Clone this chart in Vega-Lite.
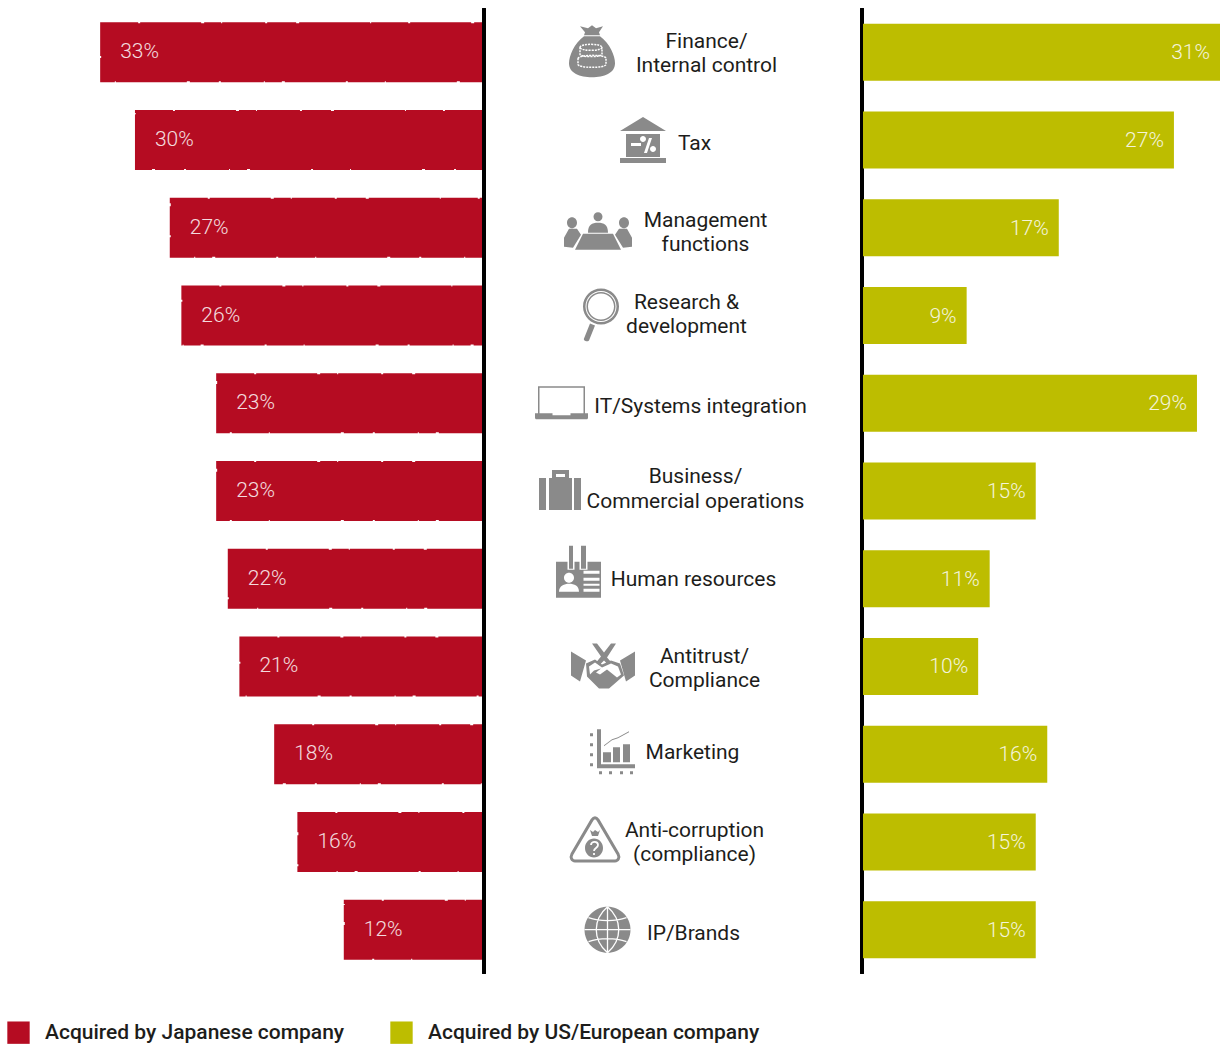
{"$schema":"https://vega.github.io/schema/vega-lite/v6.json","padding":{"top":6.5,"left":0,"right":0,"bottom":0},"spacing":0,"bounds":"flush","config":{"view":{"stroke":null},"font":"Roboto"},
"datasets":{"rows":[
{"id":"finance","label":"Finance/\nInternal control","series":"Acquired by Japanese company","value":33},
{"id":"tax","label":"Tax","series":"Acquired by Japanese company","value":30},
{"id":"mgmt","label":"Management\nfunctions","series":"Acquired by Japanese company","value":27},
{"id":"rd","label":"Research &\ndevelopment","series":"Acquired by Japanese company","value":26},
{"id":"it","label":"IT/Systems integration","series":"Acquired by Japanese company","value":23},
{"id":"biz","label":"Business/\nCommercial operations","series":"Acquired by Japanese company","value":23},
{"id":"hr","label":"Human resources","series":"Acquired by Japanese company","value":22},
{"id":"anti","label":"Antitrust/\nCompliance","series":"Acquired by Japanese company","value":21},
{"id":"mkt","label":"Marketing","series":"Acquired by Japanese company","value":18},
{"id":"corr","label":"Anti-corruption\n(compliance)","series":"Acquired by Japanese company","value":16},
{"id":"ip","label":"IP/Brands","series":"Acquired by Japanese company","value":12},
{"id":"finance","label":"Finance/\nInternal control","series":"Acquired by US/European company","value":31},
{"id":"tax","label":"Tax","series":"Acquired by US/European company","value":27},
{"id":"mgmt","label":"Management\nfunctions","series":"Acquired by US/European company","value":17},
{"id":"rd","label":"Research &\ndevelopment","series":"Acquired by US/European company","value":9},
{"id":"it","label":"IT/Systems integration","series":"Acquired by US/European company","value":29},
{"id":"biz","label":"Business/\nCommercial operations","series":"Acquired by US/European company","value":15},
{"id":"hr","label":"Human resources","series":"Acquired by US/European company","value":11},
{"id":"anti","label":"Antitrust/\nCompliance","series":"Acquired by US/European company","value":10},
{"id":"mkt","label":"Marketing","series":"Acquired by US/European company","value":16},
{"id":"corr","label":"Anti-corruption\n(compliance)","series":"Acquired by US/European company","value":15},
{"id":"ip","label":"IP/Brands","series":"Acquired by US/European company","value":15}
]},
"data":{"name":"rows"},
"hconcat":[
{"width":484,"height":965,"transform":[{"filter":"datum.series==='Acquired by Japanese company'"},{"calculate":"datum.value+'%'","as":"pct"}],
"encoding":{"y":{"field":"id","type":"nominal","sort":null,"axis":null,"scale":{"paddingInner":0.35,"paddingOuter":0.175}},
"x":{"field":"value","type":"quantitative","axis":null,"scale":{"domain":[0,41.72],"reverse":true}}},
"layer":[
{"mark":{"type":"bar","size":58,"stroke":"#b50c22","strokeWidth":2,"strokeDash":[37,2,61,3,17,1,43,2,29,3,71,1]},"encoding":{"color":{"field":"series","type":"nominal","scale":{"domain":["Acquired by Japanese company","Acquired by US/European company"],"range":["#b50c22","#bdbd00"]},"legend":{"title":null,"orient":"none","legendX":7,"legendY":1012.5,"direction":"horizontal","columns":2,"symbolType":"square","symbolSize":500,"symbolStrokeWidth":0,"symbolDash":[],"labelFont":"Roboto","labelFontWeight":500,"labelFontSize":21,"labelColor":"#1d1d1b","labelOffset":15,"columnPadding":45,"labelLimit":400}}}},
{"mark":{"type":"text","align":"left","dx":19,"font":"Roboto","fontWeight":300,"fontSize":21,"color":"#ffffff","opacity":0.85},"encoding":{"text":{"field":"pct"}}},
{"mark":{"type":"rule","strokeWidth":3,"color":"#000000"},"encoding":{"x":{"datum":0},"y":{"value":0},"y2":{"value":965}}}
]},
{"width":379,"height":965,"transform":[{"filter":"datum.series==='Acquired by Japanese company'"}],
"encoding":{"y":{"field":"id","type":"nominal","sort":null,"axis":null,"scale":{"paddingInner":0.35,"paddingOuter":0.175}}},
"layer":[
{"transform":[{"filter":"datum.id==='finance'"}],"mark":{"type":"point","filled":true,"opacity":1,"color":"#8a8a8a","size":4,"xOffset":-81.5,"yOffset":-1,"shape":"M-8,-15 C-18,-8 -23,5 -23,12 C-23,22 -12,26 0,26 C12,26 23,22 23,12 C23,5 18,-8 8,-15 Z M-12,-25 L-4,-23 L0,-26 L4,-23 L11,-25 L7,-19 L8,-16 L-8,-16 L-7,-19 Z"}},
{"transform":[{"filter":"datum.id==='finance'"}],"mark":{"type":"point","filled":false,"opacity":1,"color":"#ffffff","strokeWidth":1.5,"strokeDash":[2,1],"size":4,"xOffset":-81.5,"yOffset":-1,"shape":"M-12,-4 C-12,-8 10,-8 10,-4 C10,0 -12,0 -12,-4 M-12,-4 L-12,3 C-12,6 10,6 10,3 L10,-4 M-14,7 L-14,13 C-14,17 14,17 14,13 L14,7 C14,3 -12,3 -14,7"}},
{"transform":[{"filter":"datum.id==='tax'"}],"mark":{"type":"point","filled":true,"opacity":1,"color":"#8a8a8a","size":4,"xOffset":-30.5,"yOffset":0,"shape":"M0,-23 L23,-9 L-23,-9 Z M-17,-6 L-17,17 L17,17 L17,-6 Z M-12,3 L-2,3 L-2,6 L-12,6 Z M6,-2 L9,-2 L4,13 L1,13 Z M-23,18 L23,18 L23,23 L-23,23 Z M7,9 A3,3 0 1 1 13,9 A3,3 0 1 1 7,9 Z M-3,-1 A3,3 0 1 1 3,-1 A3,3 0 1 1 -3,-1 Z"}},
{"transform":[{"filter":"datum.id==='mgmt'"}],"mark":{"type":"point","filled":true,"opacity":1,"color":"#8a8a8a","size":4,"xOffset":-75.5,"yOffset":2,"shape":"M-4.5,-13 A4.5,4.5 0 1 0 4.5,-13 A4.5,4.5 0 1 0 -4.5,-13 Z M-10,3 C-10,-5 -6,-7 0,-7 C6,-7 10,-5 10,3 Z M-15,4 L15,4 L23,20 L-23,20 Z M-31,-7 A5,5.5 0 1 0 -21,-7 A5,5.5 0 1 0 -31,-7 Z M-29,-1 L-21,-1 L-17,5 L-25,18 L-34,17 L-34,8 Z M21,-7 A5,5.5 0 1 0 31,-7 A5,5.5 0 1 0 21,-7 Z M21,-1 L29,-1 L34,8 L34,17 L25,18 L17,5 Z"}},
{"transform":[{"filter":"datum.id==='rd'"}],"mark":{"type":"point","filled":true,"opacity":1,"color":"#8a8a8a","size":4,"xOffset":-72.5,"yOffset":-9,"shape":"M-18,0 A18,18 0 1 0 18,0 A18,18 0 1 0 -18,0 Z M-15.5,0 A15.5,15.5 0 1 1 15.5,0 A15.5,15.5 0 1 1 -15.5,0 Z M-14.5,0 A14.5,14.5 0 1 0 14.5,0 A14.5,14.5 0 1 0 -14.5,0 Z M-13,0 A13,13 0 1 1 13,0 A13,13 0 1 1 -13,0 Z M-11,17 L-6,19 L-12,34 C-14,36 -18,34 -17,32 Z"}},
{"transform":[{"filter":"datum.id==='it'"}],"mark":{"type":"point","filled":true,"opacity":1,"color":"#8a8a8a","size":4,"xOffset":-112,"yOffset":-1,"shape":"M-23.5,-16 L-23.5,11 L23.5,11 L23.5,-16 Z M-22,-14.5 L22,-14.5 L22,11 L-22,11 Z M-26.5,11 L-26.5,15 C-26.5,16.5 -26,17 -25,17 L25,17 C26,17 26.5,16.5 26.5,15 L26.5,11 Z M-9,11 L9,11 L9,13 L-9,13 Z"}},
{"transform":[{"filter":"datum.id==='biz'"}],"mark":{"type":"point","filled":true,"opacity":1,"color":"#8a8a8a","size":4,"xOffset":-113.5,"yOffset":-1,"shape":"M-21,-12 L-21,20 L-14,20 L-14,-12 Z M14,-12 L14,20 L21,20 L21,-12 Z M-11,-12 L-11,20 L12,20 L12,-12 L9,-12 L9,-20 L-8,-20 L-8,-12 Z M-4,-16 L5,-16 L5,-13 L-4,-13 Z"}},
{"transform":[{"filter":"datum.id==='hr'"}],"mark":{"type":"point","filled":true,"opacity":1,"color":"#8a8a8a","size":4,"xOffset":-95,"yOffset":-7,"shape":"M-22.5,-10 L-22.5,26 L22.5,26 L22.5,-10 Z M-11,-10 L-4,-10 L-4,-2 L-11,-2 Z M1,-10 L9,-10 L9,-2 L1,-2 Z M-9.5,-26 L-9.5,-3 L-5.5,-3 L-5.5,-26 Z M2.5,-26 L2.5,-3 L7.5,-3 L7.5,-26 Z M-14.5,6 A5,5 0 1 1 -4.5,6 A5,5 0 1 1 -14.5,6 Z M-19.5,20 C-19.5,14 -14,12 -9.5,12 C-4,12 0.5,14 0.5,20 Z M5,-1 L21,-1 L21,2 L5,2 Z M5,6 L21,6 L21,9 L5,9 Z M5,12 L21,12 L21,14 L5,14 Z M5,17 L21,17 L21,20 L5,20 Z"}},
{"transform":[{"filter":"datum.id==='anti'"}],"mark":{"type":"point","filled":true,"opacity":1,"color":"#8a8a8a","size":4,"xOffset":-70.5,"yOffset":0,"shape":"M-32,-15 L-17,-6 L-23,15 L-32,9 Z M32,-15 L17,-6 L23,15 L32,9 Z M-11,-23 L-6,-23 L1,-14 L8,-23 L13,-23 L4,-9 L13,1 L8,1 L1,-6 L-6,1 L-11,1 L-2,-10 Z M-17,-3 L-8,-7 L-1,-2 L8,-6 L17,-3 L21,9 L6,22 L-4,22 L-16,10 Z"}},
{"transform":[{"filter":"datum.id==='anti'"}],"mark":{"type":"point","filled":true,"opacity":1,"color":"#ffffff","size":4,"xOffset":-70.5,"yOffset":0,"shape":"M-14,0 L-8,-4 L-1,1 L8,-3 L15,0 L18,8 L14,11 L4,3 L-3,8 L-7,6 L-2,2 L-9,4 L-13,8 Z"}},
{"transform":[{"filter":"datum.id==='mkt'"}],"mark":{"type":"point","filled":true,"opacity":1,"color":"#8a8a8a","size":4,"xOffset":-61.5,"yOffset":-3,"shape":"M-15,-22 L-15,17 L23,17 L23,13 L-11,13 L-11,-22 Z M-9,1 L-1,1 L-1,11 L-9,11 Z M1,-4 L8,-4 L8,11 L1,11 Z M11,-7 L18,-7 L18,11 L11,11 Z M-8,-6 L0,-12 L6,-14 L17,-20 L17,-19 L6,-13 L0,-11 L-8,-5 Z M-22,-18 h3 v3 h-3 Z M-22,-8 h3 v3 h-3 Z M-22,2 h3 v3 h-3 Z M-22,12 h3 v3 h-3 Z M-13,20 h3 v3 h-3 Z M-3,20 h3 v3 h-3 Z M8,20 h3 v3 h-3 Z M18,20 h3 v3 h-3 Z"}},
{"transform":[{"filter":"datum.id==='corr'"}],"mark":{"type":"point","filled":false,"opacity":1,"color":"#8a8a8a","strokeWidth":3,"size":4,"xOffset":-78.5,"yOffset":-2,"shape":"M-3,-20 C-1,-23 1,-23 3,-20 L23,14 C25,18 23,21 20,21 L-20,21 C-23,21 -25,18 -23,14 Z"}},
{"transform":[{"filter":"datum.id==='corr'"}],"mark":{"type":"point","filled":true,"opacity":1,"color":"#8a8a8a","size":4,"xOffset":-78.5,"yOffset":-2,"shape":"M-10,8 A9,9.5 0 1 0 8,8 A9,9.5 0 1 0 -10,8 Z M-5,-10 L-2,-8 L0,-10 L3,-8 L5,-10 L3,-4 L-3,-4 Z"}},
{"transform":[{"filter":"datum.id==='corr'"}],"mark":{"type":"point","filled":false,"opacity":1,"color":"#ffffff","strokeWidth":1.8,"size":4,"xOffset":-78.5,"yOffset":-2,"shape":"M-4,5 C-4,1 3,1 3,5 C3,8 -1,8 -1,11 M-1,13 L-1,15"}},
{"transform":[{"filter":"datum.id==='ip'"}],"mark":{"type":"point","filled":true,"opacity":1,"color":"#8a8a8a","size":4,"xOffset":-66,"yOffset":0,"shape":"M-23,0 A23,23 0 1 0 23,0 A23,23 0 1 0 -23,0 Z"}},
{"transform":[{"filter":"datum.id==='ip'"}],"mark":{"type":"point","filled":false,"opacity":1,"color":"#ffffff","strokeWidth":1.3,"size":4,"xOffset":-66,"yOffset":0,"shape":"M-23,0 L23,0 M0,-23 L0,23 M0,-23 C-15,-10 -15,10 0,23 M0,-23 C15,-10 15,10 0,23 M-19,-12 C-8,-8 8,-8 19,-12 M-19,12 C-8,8 8,8 19,12"}},
{"transform":[{"filter":"datum.id==='finance'"}],"mark":{"type":"text","lineBreak":"\n","lineHeight":24,"font":"Roboto","fontSize":21,"color":"#1d1d1b","dx":33,"dy":-10.5},"encoding":{"text":{"field":"label"}}},
{"transform":[{"filter":"datum.id==='tax'"}],"mark":{"type":"text","lineBreak":"\n","lineHeight":24,"font":"Roboto","fontSize":21,"color":"#1d1d1b","dx":21,"dy":3.5},"encoding":{"text":{"field":"label"}}},
{"transform":[{"filter":"datum.id==='mgmt'"}],"mark":{"type":"text","lineBreak":"\n","lineHeight":24,"font":"Roboto","fontSize":21,"color":"#1d1d1b","dx":32,"dy":-6.5},"encoding":{"text":{"field":"label"}}},
{"transform":[{"filter":"datum.id==='rd'"}],"mark":{"type":"text","lineBreak":"\n","lineHeight":24,"font":"Roboto","fontSize":21,"color":"#1d1d1b","dx":13,"dy":-12.5},"encoding":{"text":{"field":"label"}}},
{"transform":[{"filter":"datum.id==='it'"}],"mark":{"type":"text","lineBreak":"\n","lineHeight":24,"font":"Roboto","fontSize":21,"color":"#1d1d1b","dx":27,"dy":3.5},"encoding":{"text":{"field":"label"}}},
{"transform":[{"filter":"datum.id==='biz'"}],"mark":{"type":"text","lineBreak":"\n","lineHeight":25,"font":"Roboto","fontSize":21,"color":"#1d1d1b","dx":22,"dy":-14.5},"encoding":{"text":{"field":"label"}}},
{"transform":[{"filter":"datum.id==='hr'"}],"mark":{"type":"text","lineBreak":"\n","lineHeight":24,"font":"Roboto","fontSize":21,"color":"#1d1d1b","dx":20,"dy":1.5},"encoding":{"text":{"field":"label"}}},
{"transform":[{"filter":"datum.id==='anti'"}],"mark":{"type":"text","lineBreak":"\n","lineHeight":24,"font":"Roboto","fontSize":21,"color":"#1d1d1b","dx":31,"dy":-9.5},"encoding":{"text":{"field":"label"}}},
{"transform":[{"filter":"datum.id==='mkt'"}],"mark":{"type":"text","lineBreak":"\n","lineHeight":24,"font":"Roboto","fontSize":21,"color":"#1d1d1b","dx":19,"dy":-1.5},"encoding":{"text":{"field":"label"}}},
{"transform":[{"filter":"datum.id==='corr'"}],"mark":{"type":"text","lineBreak":"\n","lineHeight":24,"font":"Roboto","fontSize":21,"color":"#1d1d1b","dx":21,"dy":-10.5},"encoding":{"text":{"field":"label"}}},
{"transform":[{"filter":"datum.id==='ip'"}],"mark":{"type":"text","lineBreak":"\n","lineHeight":24,"font":"Roboto","fontSize":21,"color":"#1d1d1b","dx":20,"dy":4.5},"encoding":{"text":{"field":"label"}}}
]},
{"width":357,"height":965,"transform":[{"filter":"datum.series==='Acquired by US/European company'"},{"calculate":"datum.value+'%'","as":"pct"}],
"encoding":{"y":{"field":"id","type":"nominal","sort":null,"axis":null,"scale":{"paddingInner":0.35,"paddingOuter":0.175}},
"x":{"field":"value","type":"quantitative","axis":null,"scale":{"domain":[0,31]}}},
"layer":[
{"mark":{"type":"rule","strokeWidth":3,"color":"#000000","xOffset":-1},"encoding":{"x":{"datum":0},"y":{"value":0},"y2":{"value":965}}},
{"mark":{"type":"bar","size":57},"encoding":{"color":{"field":"series","type":"nominal","scale":{"domain":["Acquired by Japanese company","Acquired by US/European company"],"range":["#b50c22","#bdbd00"]},"legend":{"title":null,"orient":"none","legendX":7,"legendY":1012.5,"direction":"horizontal","columns":2,"symbolType":"square","symbolSize":500,"symbolStrokeWidth":0,"labelFont":"Roboto","labelFontWeight":500,"labelFontSize":21,"labelColor":"#1d1d1b","labelOffset":15,"columnPadding":45,"labelLimit":400}}}},
{"mark":{"type":"text","align":"right","dx":-10,"dy":1,"font":"Roboto","fontWeight":300,"fontSize":21,"color":"#ffffff","opacity":0.85},"encoding":{"text":{"field":"pct"}}}
]}
]}
